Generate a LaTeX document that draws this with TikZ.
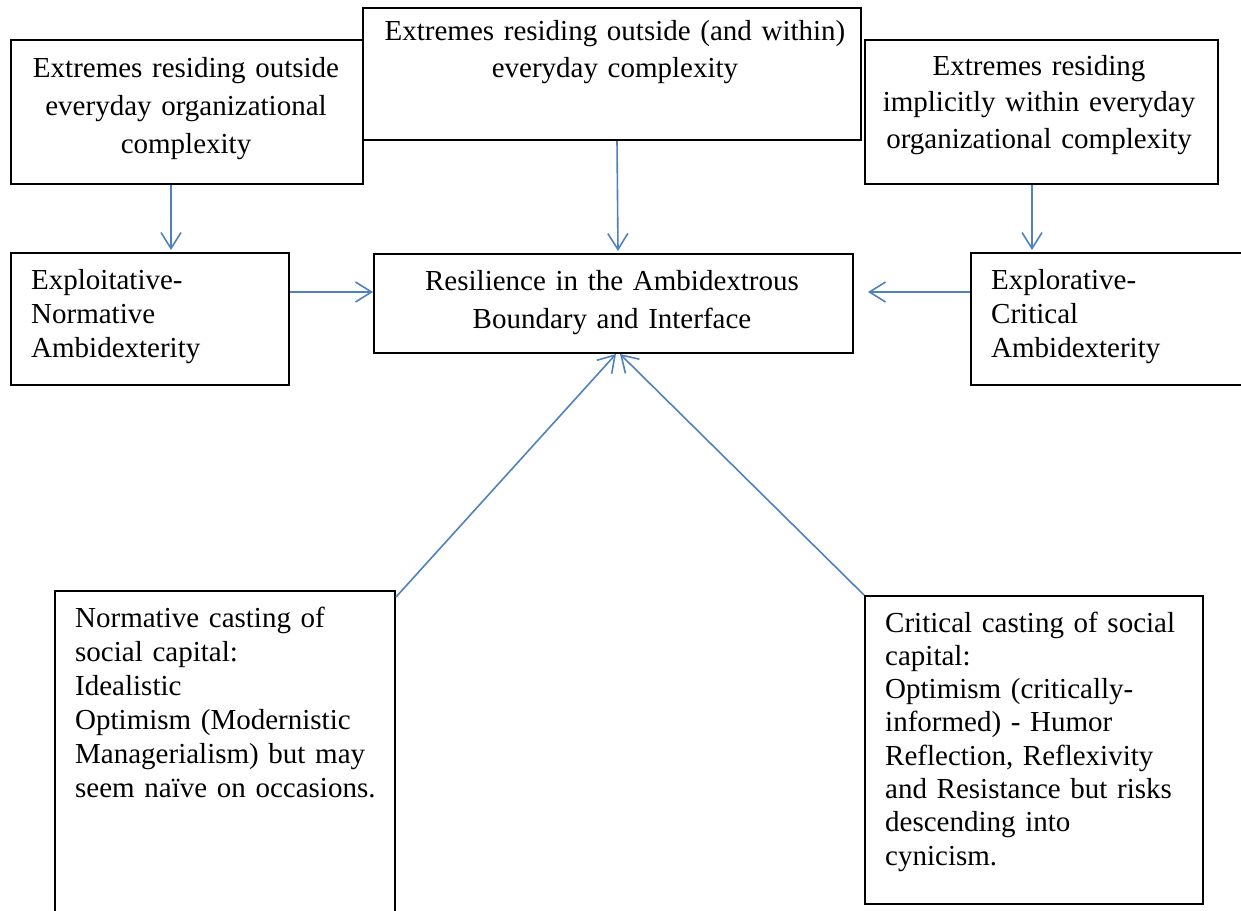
\documentclass[tikz,border=0pt]{standalone}
\usepackage{fontspec}
\setmainfont{Liberation Serif}
\usetikzlibrary{arrows.meta,calc}
\definecolor{arrblue}{RGB}{79,129,189}
\tikzset{
  boxnode/.style={draw=black, line width=2pt, fill=white, inner sep=0pt, anchor=north west},
  ctext/.style={inner sep=0pt, anchor=base, align=center, font=\fontsize{29}{#1}\selectfont},
  ltext/.style={inner sep=0pt, anchor=base west, align=left, font=\fontsize{29}{#1}\selectfont},
  arr/.style={draw=arrblue, line width=1.6pt, -{Straight Barb[length=16pt, width=20pt, line width=1.6pt]}},
}
\begin{document}
\begin{tikzpicture}[x=1pt,y=-1pt]
\useasboundingbox (0,0) rectangle (1241,910);
\clip (0,0) rectangle (1241,910);
% boxes
\node[boxnode, minimum width=352pt, minimum height=144pt] (tl) at (10,39) {};
\node[boxnode, minimum width=498pt, minimum height=132pt] (tc) at (362,7) {};
\node[boxnode, minimum width=353pt, minimum height=144pt] (tr) at (864,39) {};
\node[boxnode, minimum width=278pt, minimum height=132pt] (expl) at (10,252) {};
\node[boxnode, minimum width=479pt, minimum height=99pt] (res) at (373,253) {};
\node[boxnode, minimum width=300pt, minimum height=132pt] (explo) at (970,252) {};
\node[boxnode, minimum width=340pt, minimum height=340pt] (ncast) at (54,590) {};
\node[boxnode, minimum width=338pt, minimum height=308pt] (ccast) at (864,595) {};
% texts
\node[ctext=38, text width=340pt] (tltext) at (186,77) {Extremes residing outside\\everyday organizational\\complexity};
\node[ctext=37, text width=490pt] (tctext) at (615,40) {Extremes residing outside (and within)\\everyday complexity};
\node[ctext=36.5, text width=345pt] (trtext) at (1039,75) {Extremes residing\\implicitly within everyday\\organizational complexity};
\node[ltext=34, text width=250pt] (expltext) at (31,289) {Exploitative-\\Normative\\Ambidexterity};
\node[ctext=38, text width=470pt] (restext) at (612,290) {Resilience in the Ambidextrous\\Boundary and Interface};
\node[ltext=34, text width=240pt] (explotext) at (991,289) {Explorative-\\Critical\\Ambidexterity};
\node[ltext=34, text width=315pt] (ncasttext) at (75,627) {Normative casting of\\social capital:\\Idealistic\\Optimism (Modernistic\\Managerialism) but may\\seem naïve on occasions.};
\node[ltext=33.3, text width=315pt] (ccasttext) at (885,632) {Critical casting of social\\capital:\\Optimism (critically-\\informed) - Humor\\Reflection, Reflexivity\\and Resistance but risks\\descending into\\cynicism.};
% arrows
\draw[arr] ($(tl.south west)+(161,0)$) -- ($(expl.north west)+(161,-2)$);
\draw[arr] ($(tc.south west)+(255,0)$) -- ($(res.north west)+(245,-2)$);
\draw[arr] ($(tr.south west)+(168,0)$) -- ($(explo.north west)+(62,-2)$);
\draw[arr] ($(expl.north east)+(0,40)$) -- ($(res.north west)+(0,39)$);
\draw[arr] ($(explo.north west)+(0,40)$) -- ($(res.north east)+(14,39)$);
\draw[arr] ($(ncast.north east)+(0,7)$) -- ($(res.south west)+(243,0)$);
\draw[arr] (ccast.north west) -- ($(res.south west)+(247,0)$);
\end{tikzpicture}
\end{document}
